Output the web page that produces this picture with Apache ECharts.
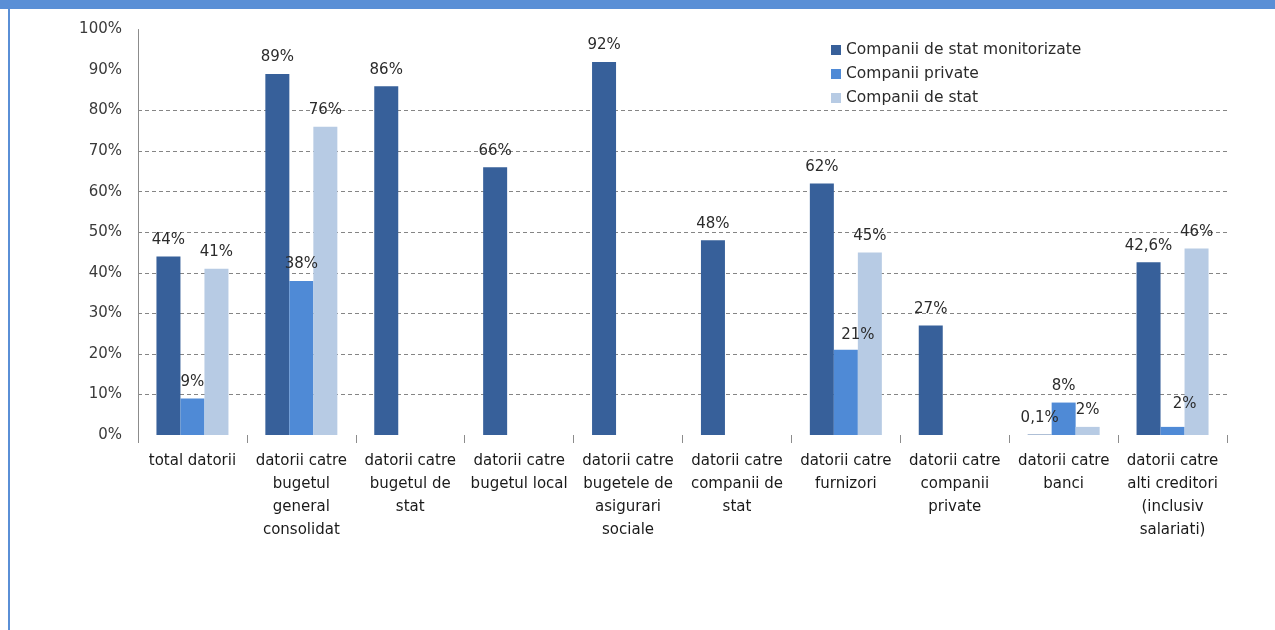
<!DOCTYPE html>
<html>
<head>
<meta charset="utf-8">
<script src="https://cdn.jsdelivr.net/npm/echarts@6/dist/echarts.min.js"></script>
<style>
  html, body { margin: 0; padding: 0; background: #fff; }
  #wrap { position: relative; width: 1275px; height: 630px; overflow: hidden; }
  .band { position: absolute; left: 0; top: 0; width: 1275px; height: 9px; background: #5a8fd6; }
  .side { position: absolute; left: 8px; top: 9px; width: 2px; height: 621px; background: #5a8fd6; }
  #chart { position: absolute; left: 0; top: 0; width: 1275px; height: 630px; }
</style>
</head>
<body>
<div id="wrap">
  <div class="band"></div>
  <div class="side"></div>
  <div id="chart"></div>
</div>
<script>
// categorii (axa x)
var categories = [
  "total datorii",
  "datorii catre\nbugetul\ngeneral\nconsolidat",
  "datorii catre\nbugetul de\nstat",
  "datorii catre\nbugetul local",
  "datorii catre\nbugetele de\nasigurari\nsociale",
  "datorii catre\ncompanii de\nstat",
  "datorii catre\nfurnizori",
  "datorii catre\ncompanii\nprivate",
  "datorii catre\nbanci",
  "datorii catre\nalti creditori\n(inclusiv\nsalariati)"
];

var seriesNames = ["Companii de stat monitorizate", "Companii private", "Companii de stat"];

// valori in %
var monitorizate = [44, 89, 86, 66, 92, 48, 62, 27, 0.1, 42.6];
var privateCo = [9, 38, "-", "-", "-", "-", 21, "-", 8, 2];
var statCo = [41, 76, "-", "-", "-", "-", 45, "-", 2, 46];

var yTicks = [0, 10, 20, 30, 40, 50, 60, 70, 80, 90, 100];

var colors = ["#37609a", "#4f8ad6", "#b7cbe4"];
var font = "DejaVu Sans";

// etichete mutate putin (ca in original)
var shiftedPrivate = { 6: [12, 2], 9: [12, -6] };

function pct(v) {
  return String(v).replace(".", ",") + "%";
}

function withOffsets(values, shifts) {
  return values.map(function (v, i) {
    if (shifts[i]) return { value: v, label: { offset: shifts[i] } };
    return v;
  });
}

// liniile de grila doar intre 10% si 80%
var gridColors = yTicks.map(function (t) {
  return t > 0 && t <= 80 ? "#858585" : "rgba(0,0,0,0)";
});

var chart = echarts.init(document.getElementById("chart"));

var barLabel = {
  show: true,
  position: "top",
  distance: 9,
  fontFamily: font,
  fontSize: 15,
  color: "#2b2b2b",
  formatter: function (p) { return pct(p.value); }
};

chart.setOption({
  animation: false,
  color: colors,
  grid: { left: 138, right: 48, top: 29.5, bottom: 195 },
  legend: {
    orient: "vertical",
    left: 826,
    top: 37,
    itemWidth: 10,
    itemHeight: 10,
    itemGap: 8,
    icon: "rect",
    data: seriesNames,
    textStyle: { fontFamily: font, fontSize: 15.5, color: "#2b2b2b" }
  },
  xAxis: {
    type: "category",
    data: categories,
    axisLine: { show: false },
    axisTick: { show: true, length: 8, lineStyle: { color: "#8c8c8c" } },
    axisLabel: {
      interval: 0,
      margin: 15,
      fontFamily: font,
      fontSize: 15,
      lineHeight: 23,
      color: "#1a1a1a",
      align: "center"
    }
  },
  yAxis: {
    type: "value",
    min: 0,
    max: 100,
    interval: 10,
    axisLine: { show: true, lineStyle: { color: "#8c8c8c" } },
    axisTick: { show: false },
    axisLabel: {
      margin: 16,
      fontFamily: font,
      fontSize: 15,
      color: "#3a3a3a",
      formatter: function (v) { return v + "%"; }
    },
    splitLine: {
      show: true,
      lineStyle: { type: [4, 3], color: gridColors, width: 1 }
    }
  },
  series: [
    {
      name: seriesNames[0],
      type: "bar",
      barWidth: 24,
      barGap: "0%",
      data: monitorizate,
      label: barLabel
    },
    {
      name: seriesNames[1],
      type: "bar",
      barWidth: 24,
      barGap: "0%",
      data: withOffsets(privateCo, shiftedPrivate),
      label: barLabel
    },
    {
      name: seriesNames[2],
      type: "bar",
      barWidth: 24,
      barGap: "0%",
      data: statCo,
      label: barLabel
    }
  ]
});
</script>
</body>
</html>
